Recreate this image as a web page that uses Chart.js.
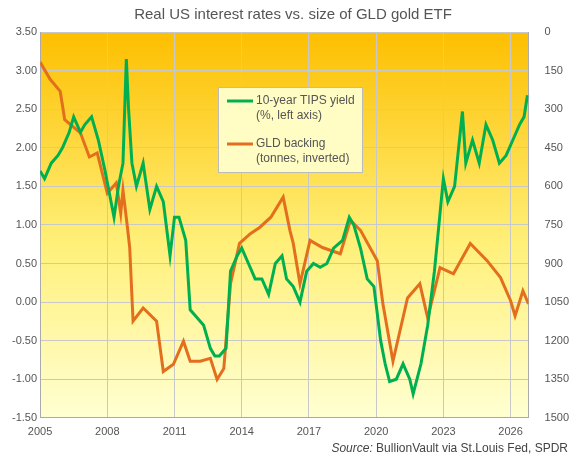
<!DOCTYPE html>
<html><head><meta charset="utf-8">
<script src="https://cdn.jsdelivr.net/npm/chart.js@4"></script>
<style>
body{margin:0;background:#fff;font-family:"Liberation Sans",Arial,sans-serif}
#w{position:relative;width:578px;height:462px}
#src{position:absolute;right:10px;top:441px;font-size:12px;color:#444}
</style></head><body>
<div id="w"><canvas id="c" width="578" height="462"></canvas>
<div id="src"><i>Source:</i> BullionVault via St.Louis Fed, SPDR</div></div>
<script>
const tipsYears=[2005.0,2005.2,2005.5,2005.8,2006.0,2006.3,2006.5,2006.8,2007.0,2007.3,2007.6,2007.9,2008.1,2008.3,2008.5,2008.7,2008.85,2008.95,2009.1,2009.3,2009.6,2009.9,2010.2,2010.5,2010.8,2011.0,2011.2,2011.5,2011.7,2012.0,2012.3,2012.6,2012.8,2013.0,2013.3,2013.5,2013.8,2014.0,2014.3,2014.6,2014.9,2015.2,2015.5,2015.8,2016.0,2016.3,2016.6,2016.9,2017.2,2017.5,2017.8,2018.1,2018.5,2018.8,2019.0,2019.3,2019.6,2019.9,2020.2,2020.4,2020.6,2020.9,2021.2,2021.5,2021.65,2022.0,2022.3,2022.6,2022.8,2023.0,2023.2,2023.5,2023.85,2024.0,2024.3,2024.6,2024.9,2025.2,2025.5,2025.8,2026.1,2026.4,2026.6,2026.75];
const tipsValues=[1.7,1.6,1.8,1.9,2.0,2.2,2.4,2.2,2.3,2.4,2.1,1.7,1.4,1.1,1.5,1.8,3.15,2.5,1.8,1.5,1.8,1.2,1.5,1.3,0.6,1.1,1.1,0.8,-0.1,-0.2,-0.3,-0.6,-0.7,-0.7,-0.6,0.4,0.6,0.7,0.5,0.3,0.3,0.1,0.5,0.6,0.3,0.2,0.0,0.4,0.5,0.45,0.5,0.7,0.8,1.1,1.0,0.7,0.3,0.2,-0.5,-0.8,-1.03,-1.0,-0.8,-1.0,-1.19,-0.8,-0.3,0.4,1.0,1.6,1.3,1.5,2.47,1.8,2.1,1.8,2.3,2.1,1.8,1.9,2.1,2.3,2.4,2.68];
const gldYears=[2005.0,2005.45,2005.9,2006.1,2006.8,2007.2,2007.55,2008.0,2008.4,2008.6,2008.7,2008.9,2009.0,2009.15,2009.6,2010.2,2010.5,2010.95,2011.4,2011.7,2012.15,2012.6,2012.9,2013.2,2013.5,2013.9,2014.4,2014.8,2015.3,2015.85,2016.15,2016.3,2016.6,2017.05,2017.6,2018.4,2018.85,2019.3,2020.05,2020.3,2020.75,2021.4,2021.95,2022.3,2022.85,2023.45,2024.2,2024.95,2025.55,2026.0,2026.2,2026.55,2026.8];
const gldTonnes=[117,184,231,341,392,486,470,627,587,705,615,760,838,1124,1073,1124,1320,1292,1202,1280,1280,1269,1351,1308,979,822,783,760,720,642,771,822,979,810,838,862,732,771,889,1057,1280,1034,979,1112,916,940,822,889,955,1045,1104,1006,1057];
const yearTicks=[2005,2008,2011,2014,2017,2020,2023,2026];
const legendItems=[["10-year TIPS yield","(%, left axis)","#00b050"],["GLD backing","(tonnes, inverted)","#e36f1e"]];
const pts=(xs,ys)=>xs.map((x,i)=>({x,y:ys[i]}));
const bg={id:'bg',beforeDraw(c){const a=c.chartArea,g=c.ctx.createLinearGradient(0,a.top,0,a.bottom);g.addColorStop(0,'#fdbf00');g.addColorStop(0.55,'#fff07a');g.addColorStop(1,'#ffffd2');c.ctx.save();c.ctx.fillStyle=g;c.ctx.fillRect(a.left,a.top,a.right-a.left,a.bottom-a.top);c.ctx.restore();}};
const leg={id:'leg',afterDraw(c){const x=c.ctx;x.save();x.fillStyle='#fffcc4';x.strokeStyle='#bbb';x.lineWidth=1;x.fillRect(218.5,87.5,144,85);x.strokeRect(218.5,87.5,144,85);x.font='12px "Liberation Sans",Arial';x.textBaseline='middle';
legendItems.forEach((it,i)=>{const y=101+i*43;x.strokeStyle=it[2];x.lineWidth=3;x.beginPath();x.moveTo(227,y);x.lineTo(253,y);x.stroke();x.fillStyle='#555';x.fillText(it[0],256,y);x.fillText(it[1],256,y+15);});x.restore();}};
new Chart(document.getElementById('c'),{type:'line',
data:{datasets:[
{data:pts(tipsYears,tipsValues),borderColor:'#00b050',borderWidth:3,pointRadius:0,yAxisID:'y',tension:0},
{data:pts(gldYears,gldTonnes),borderColor:'#e36f1e',borderWidth:3,pointRadius:0,yAxisID:'y2',tension:0}]},
options:{responsive:false,animation:false,events:[],
layout:{padding:{left:9,right:1,top:0,bottom:15}},
plugins:{legend:{display:false},tooltip:{enabled:false},
title:{display:true,text:'Real US interest rates vs. size of GLD gold ETF',color:'#555',font:{size:15,weight:'normal',family:'"Liberation Sans",Arial'},padding:{top:6,bottom:8}}},
scales:{
x:{type:'linear',min:2005,max:2026.8,afterBuildTicks(a){a.ticks=yearTicks.map(v=>({value:v}));},
ticks:{color:'#555',font:{size:11},maxRotation:0,padding:8,callback:v=>String(v)},grid:{color:'#c8c8c8',drawTicks:false},border:{color:'#aaa'}},
y:{min:-1.5,max:3.5,ticks:{stepSize:0.5,color:'#555',font:{size:11},callback:v=>v.toFixed(2)},grid:{color:'#c8c8c8',drawTicks:false},border:{color:'#aaa'}},
y2:{position:'right',reverse:true,min:0,max:1500,ticks:{stepSize:150,color:'#555',font:{size:11},padding:8,callback:v=>String(v)},grid:{display:false},border:{color:'#aaa'}}}},
plugins:[bg,leg]});
</script></body></html>
